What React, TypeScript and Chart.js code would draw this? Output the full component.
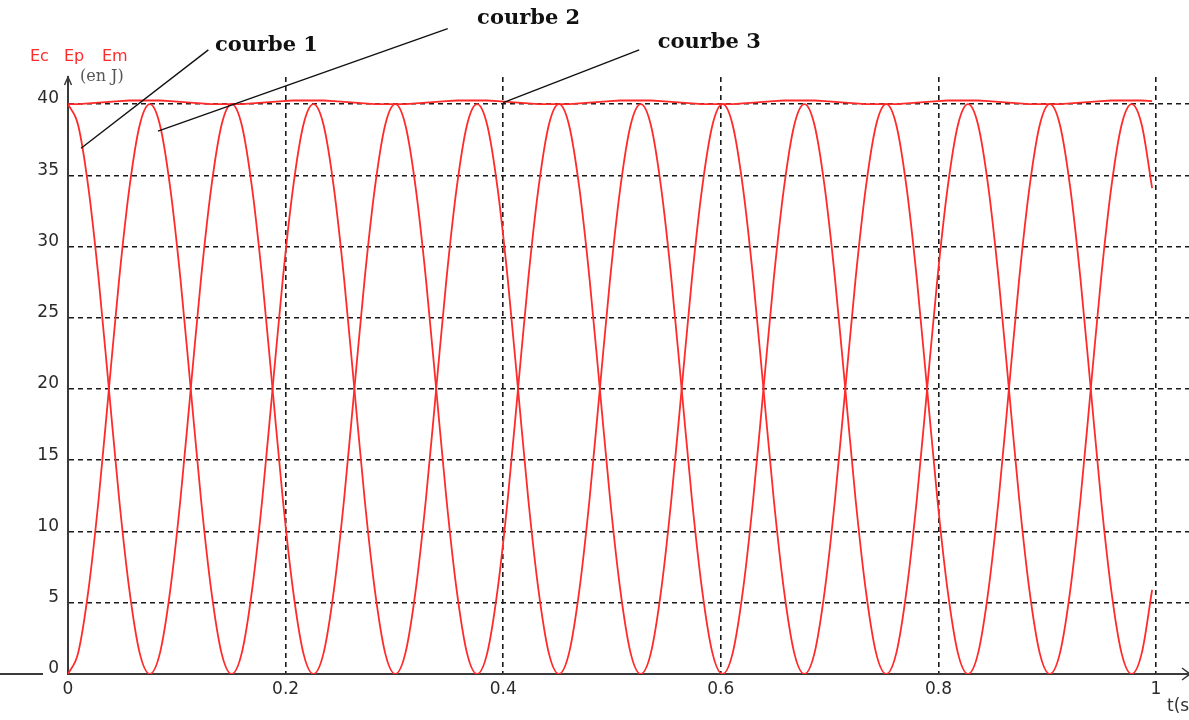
import React, { useEffect, useRef } from "react";
import { Chart, registerables } from "chart.js";

Chart.register(...registerables);

// ---- data ----
const timeS = [
  0, 0.0094, 0.0188, 0.0282, 0.0376, 0.047, 0.0564, 0.0658, 0.0752, 0.0846, 0.094, 0.1034, 0.1128, 0.1222, 0.1316, 0.141,
  0.1504, 0.1598, 0.1692, 0.1786, 0.188, 0.1974, 0.2068, 0.2162, 0.2256, 0.235, 0.2444, 0.2538, 0.2632, 0.2726, 0.282, 0.2914,
  0.3008, 0.3102, 0.3196, 0.329, 0.3384, 0.3478, 0.3572, 0.3666, 0.376, 0.3854, 0.3948, 0.4042, 0.4136, 0.423, 0.4324, 0.4418,
  0.4512, 0.4606, 0.47, 0.4794, 0.4888, 0.4982, 0.5076, 0.517, 0.5264, 0.5358, 0.5452, 0.5546, 0.564, 0.5734, 0.5828, 0.5922,
  0.6016, 0.611, 0.6204, 0.6298, 0.6392, 0.6486, 0.658, 0.6674, 0.6768, 0.6862, 0.6956, 0.705, 0.7144, 0.7238, 0.7332, 0.7426,
  0.752, 0.7614, 0.7708, 0.7802, 0.7896, 0.799, 0.8084, 0.8178, 0.8272, 0.8366, 0.846, 0.8554, 0.8648, 0.8742, 0.8836, 0.893,
  0.9024, 0.9118, 0.9212, 0.9306, 0.94, 0.9494, 0.9588, 0.9682, 0.9776, 0.987, 0.9964,
];

const ecValues = [
  40, 38.5, 34.1, 27.7, 20, 12.3, 5.9, 1.5, 0, 1.5, 5.9, 12.3, 20, 27.7, 34.1, 38.5,
  40, 38.5, 34.1, 27.7, 20, 12.3, 5.9, 1.5, 0, 1.5, 5.9, 12.3, 20, 27.7, 34.1, 38.5,
  40, 38.5, 34.1, 27.7, 20, 12.3, 5.9, 1.5, 0, 1.5, 5.9, 12.3, 20, 27.7, 34.1, 38.5,
  40, 38.5, 34.1, 27.7, 20, 12.3, 5.9, 1.5, 0, 1.5, 5.9, 12.3, 20, 27.7, 34.1, 38.5,
  40, 38.5, 34.1, 27.7, 20, 12.3, 5.9, 1.5, 0, 1.5, 5.9, 12.3, 20, 27.7, 34.1, 38.5,
  40, 38.5, 34.1, 27.7, 20, 12.3, 5.9, 1.5, 0, 1.5, 5.9, 12.3, 20, 27.7, 34.1, 38.5,
  40, 38.5, 34.1, 27.7, 20, 12.3, 5.9, 1.5, 0, 1.5, 5.9,
];

const epValues = [
  0, 1.5, 5.9, 12.3, 20, 27.7, 34.1, 38.5, 40, 38.5, 34.1, 27.7, 20, 12.3, 5.9, 1.5,
  0, 1.5, 5.9, 12.3, 20, 27.7, 34.1, 38.5, 40, 38.5, 34.1, 27.7, 20, 12.3, 5.9, 1.5,
  0, 1.5, 5.9, 12.3, 20, 27.7, 34.1, 38.5, 40, 38.5, 34.1, 27.7, 20, 12.3, 5.9, 1.5,
  0, 1.5, 5.9, 12.3, 20, 27.7, 34.1, 38.5, 40, 38.5, 34.1, 27.7, 20, 12.3, 5.9, 1.5,
  0, 1.5, 5.9, 12.3, 20, 27.7, 34.1, 38.5, 40, 38.5, 34.1, 27.7, 20, 12.3, 5.9, 1.5,
  0, 1.5, 5.9, 12.3, 20, 27.7, 34.1, 38.5, 40, 38.5, 34.1, 27.7, 20, 12.3, 5.9, 1.5,
  0, 1.5, 5.9, 12.3, 20, 27.7, 34.1, 38.5, 40, 38.5, 34.1,
];

const emValues = [
  40, 40, 40.05, 40.1, 40.15, 40.2, 40.25, 40.25, 40.25, 40.25, 40.2, 40.15, 40.1, 40.05, 40, 40,
  40, 40, 40.05, 40.1, 40.15, 40.2, 40.25, 40.25, 40.25, 40.25, 40.2, 40.15, 40.1, 40.05, 40, 40,
  40, 40, 40.05, 40.1, 40.15, 40.2, 40.25, 40.25, 40.25, 40.25, 40.2, 40.15, 40.1, 40.05, 40, 40,
  40, 40, 40.05, 40.1, 40.15, 40.2, 40.25, 40.25, 40.25, 40.25, 40.2, 40.15, 40.1, 40.05, 40, 40,
  40, 40, 40.05, 40.1, 40.15, 40.2, 40.25, 40.25, 40.25, 40.25, 40.2, 40.15, 40.1, 40.05, 40, 40,
  40, 40, 40.05, 40.1, 40.15, 40.2, 40.25, 40.25, 40.25, 40.25, 40.2, 40.15, 40.1, 40.05, 40, 40,
  40, 40, 40.05, 40.1, 40.15, 40.2, 40.25, 40.25, 40.25, 40.25, 40.2,
];

const seriesNames = ["Ec", "Ep", "Em"];
const xTickValues = [0, 0.2, 0.4, 0.6, 0.8, 1];
const yTickValues = [0, 5, 10, 15, 20, 25, 30, 35, 40];
const unitLabel = "(en J)";
const xAxisTitle = "t(s)";

// callouts: label, tip of the leader line (t, E), tail of the line (t, E), text anchor (t, E)
const calloutLabels = ["courbe 1", "courbe 2", "courbe 3"];
const calloutTips = [[0.012, 36.9], [0.0827, 38.1], [0.4, 40.1]];
const calloutTails = [[0.129, 43.8], [0.349, 45.3], [0.525, 43.8]];
const calloutTextAt = [[0.135, 44.1], [0.376, 46.0], [0.542, 44.3]];

const RED = "#ff2a2a";
const AXIS = "#3a3a3a";

const decorPlugin = {
  id: "decor",
  afterDraw(chart: any) {
    const { ctx, chartArea, scales } = chart;
    const xs = scales.x;
    const ys = scales.y;
    const { left, top, right } = chartArea;
    const y0 = ys.getPixelForValue(0);
    ctx.save();

    // axis extension to the left and arrowheads
    ctx.strokeStyle = AXIS;
    ctx.lineWidth = 2;
    ctx.beginPath();
    ctx.moveTo(0, y0);
    ctx.lineTo(left - 25, y0);
    ctx.stroke();
    ctx.lineWidth = 1.5;
    ctx.beginPath();
    ctx.moveTo(left - 3.5, top + 8);
    ctx.lineTo(left, top);
    ctx.lineTo(left + 3.5, top + 8);
    ctx.stroke();
    ctx.beginPath();
    ctx.moveTo(right - 7, y0 - 6);
    ctx.lineTo(right + 1, y0);
    ctx.lineTo(right - 7, y0 + 6);
    ctx.stroke();

    // series names and unit
    ctx.fillStyle = RED;
    ctx.font = "16px 'DejaVu Sans'";
    ctx.textBaseline = "middle";
    ctx.textAlign = "left";
    const nameOffsets = [-38, -4, 34];
    seriesNames.forEach((n, i) => ctx.fillText(n, left + nameOffsets[i], top - 20));
    ctx.fillStyle = "#555";
    ctx.font = "16px 'DejaVu Serif'";
    ctx.fillText(unitLabel, left + 12, top);

    // x axis title
    ctx.fillStyle = "#333";
    ctx.font = "17px 'DejaVu Sans'";
    ctx.fillText(xAxisTitle, xs.getPixelForValue(1) + 11, y0 + 33);

    // callouts
    ctx.strokeStyle = "#111";
    ctx.lineWidth = 1.4;
    calloutLabels.forEach((label, i) => {
      const [tx, ty] = calloutTips[i];
      const [ex, ey] = calloutTails[i];
      ctx.beginPath();
      ctx.moveTo(xs.getPixelForValue(tx), ys.getPixelForValue(ty));
      ctx.lineTo(xs.getPixelForValue(ex), ys.getPixelForValue(ey));
      ctx.stroke();
      const [lx, ly] = calloutTextAt[i];
      ctx.fillStyle = "#111";
      ctx.font = "bold 21px 'DejaVu Serif'";
      ctx.textBaseline = "middle";
      ctx.fillText(label, xs.getPixelForValue(lx), ys.getPixelForValue(ly));
    });
    ctx.restore();
  },
};

export default function App() {
  const ref = useRef<HTMLCanvasElement>(null);

  useEffect(() => {
    if (!ref.current) return;
    const makeSet = (label: string, vals: number[], smooth: boolean) => ({
      label,
      data: timeS.map((t, i) => ({ x: t, y: vals[i] })),
      borderColor: RED,
      backgroundColor: RED,
      borderWidth: 1.8,
      pointRadius: 0,
      tension: smooth ? 0.4 : 0,
      cubicInterpolationMode: smooth ? "monotone" : "default",
      fill: false,
    });
    const gridColor = (ctx: any) =>
      ctx.tick && ctx.tick.value === 0 ? "rgba(0,0,0,0)" : "#1a1a1a";

    const chart = new Chart(ref.current, {
      type: "line",
      data: {
        datasets: [
          makeSet(seriesNames[0], ecValues, true),
          makeSet(seriesNames[1], epValues, true),
          makeSet(seriesNames[2], emValues, false),
        ],
      },
      options: {
        responsive: false,
        animation: false,
        layout: { padding: { top: 77, left: 0, right: 0, bottom: 0 } },
        plugins: { legend: { display: false }, tooltip: { enabled: false } },
        scales: {
          x: {
            type: "linear",
            min: 0,
            max: 1.0303,
            afterBuildTicks: (s: any) => {
              s.ticks = xTickValues.map((v) => ({ value: v }));
            },
            afterFit: (s: any) => {
              s.height = 46;
            },
            grid: { color: gridColor, lineWidth: 1.6, drawTicks: false },
            border: { display: true, color: AXIS, width: 2, dash: [5, 4] },
            ticks: {
              padding: 5,
              autoSkip: false,
              maxRotation: 0,
              color: "#2a2a2a",
              font: { family: "DejaVu Sans", size: 17 },
              callback: (v: any) => String(v),
            },
          },
          y: {
            type: "linear",
            min: 0,
            max: 41.9,
            afterBuildTicks: (s: any) => {
              s.ticks = yTickValues.map((v) => ({ value: v }));
            },
            afterFit: (s: any) => {
              s.width = 68;
            },
            grid: { color: gridColor, lineWidth: 1.6, drawTicks: false },
            border: { display: true, color: AXIS, width: 2, dash: [5, 4] },
            ticks: {
              padding: 9,
              labelOffset: -5,
              color: "#2a2a2a",
              font: { family: "DejaVu Sans", size: 17 },
              callback: (v: any) => String(v),
            },
          },
        },
      },
      plugins: [decorPlugin],
    } as any);
    return () => chart.destroy();
  }, []);

  return (
    <div style={{ position: "absolute", left: 0, top: 0, width: 1189, height: 720, background: "#fff" }}>
      <canvas ref={ref} width={1189} height={720} style={{ display: "block" }} />
    </div>
  );
}
